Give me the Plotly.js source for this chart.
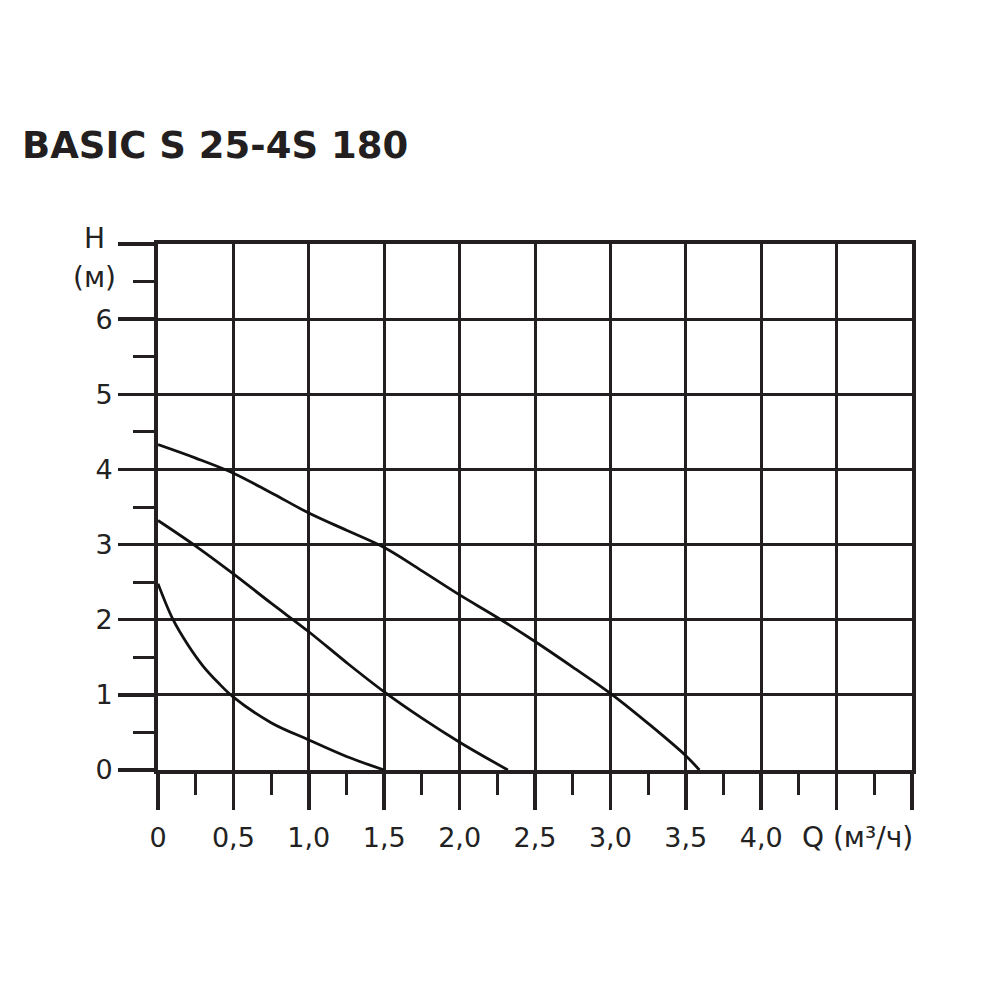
<!DOCTYPE html>
<html>
<head>
<meta charset="utf-8">
<script src="https://cdn.plot.ly/plotly-3.0.1.min.js"></script>
<style>html,body{margin:0;padding:0;background:#fff;}#chart{width:1000px;height:1000px;}</style>
</head>
<body>
<div id="chart"></div>
<script>
// Pump curves: Q (m3/h) vs H (m)
const q1 = [0, 0.25, 0.5, 0.75, 1.0, 1.25, 1.5, 1.75, 2.0, 2.25, 2.5, 2.75, 3.0, 3.25, 3.5, 3.59];
const h1 = [4.33, 4.15, 3.95, 3.69, 3.42, 3.19, 2.96, 2.65, 2.33, 2.03, 1.71, 1.37, 1.02, 0.62, 0.19, 0];

const q2 = [0, 0.25, 0.5, 0.75, 1.0, 1.25, 1.5, 1.75, 2.0, 2.32];
const h2 = [3.32, 2.98, 2.61, 2.22, 1.84, 1.43, 1.04, 0.69, 0.37, 0];

const q3 = [0, 0.1, 0.2, 0.3, 0.4, 0.5, 0.75, 1.0, 1.25, 1.5];
const h3 = [2.48, 2.0, 1.66, 1.38, 1.16, 0.97, 0.63, 0.40, 0.18, 0];

const xTickVals = [0, 0.5, 1.0, 1.5, 2.0, 2.5, 3.0, 3.5, 4.0, 4.5, 5.0];
const xTickText = ["0", "0,5", "1,0", "1,5", "2,0", "2,5", "3,0", "3,5", "4,0", "", ""];
const yTickVals = [0, 1, 2, 3, 4, 5, 6, 7];
const yTickText = ["0", "1", "2", "3", "4", "5", "6", ""];

const titleText = "BASIC S 25-4S 180";
const yLabel1 = "H";
const yLabel2 = "(м)";
const xLabel = "Q (м³/ч)";

const ink = "#231f20";
const lineStyle = {color: "#111", width: 2.8, shape: "spline", smoothing: 1.0};

const traces = [
  {x: q1, y: h1, mode: "lines", line: lineStyle, hoverinfo: "skip"},
  {x: q2, y: h2, mode: "lines", line: lineStyle, hoverinfo: "skip"},
  {x: q3, y: h3, mode: "lines", line: lineStyle, hoverinfo: "skip"}
];

const tickFont = {family: "DejaVu Sans", size: 27, color: "#222"};
const labelFont = {family: "DejaVu Sans", size: 28, color: "#222"};

const layout = {
  width: 1000, height: 1000,
  paper_bgcolor: "#fff", plot_bgcolor: "#fff",
  showlegend: false,
  margin: {l: 158, r: 88, t: 244, b: 230},
  title: {
    text: "<b>" + titleText + "</b>",
    font: {family: "DejaVu Sans", size: 37, color: ink},
    x: 0.022, xanchor: "left", xref: "container",
    y: 0.855, yanchor: "middle", yref: "container"
  },
  xaxis: {
    range: [0, 5], fixedrange: true,
    tickmode: "array", tickvals: xTickVals, ticktext: xTickText,
    ticks: "outside", ticklen: 36, tickwidth: 3.5, tickcolor: ink,
    ticklabelstandoff: 5,
    tickfont: tickFont,
    showgrid: true, gridcolor: ink, gridwidth: 3,
    showline: true, linecolor: ink, linewidth: 4, mirror: true,
    zeroline: false,
    minor: {dtick: 0.25, tick0: 0, ticks: "outside", ticklen: 21, tickwidth: 3, tickcolor: ink, showgrid: false}
  },
  yaxis: {
    range: [0, 7], fixedrange: true,
    tickmode: "array", tickvals: yTickVals, ticktext: yTickText,
    ticks: "outside", ticklen: 36, tickwidth: 3.5, tickcolor: ink,
    ticklabelstandoff: 0,
    tickfont: tickFont,
    showgrid: true, gridcolor: ink, gridwidth: 3,
    showline: true, linecolor: ink, linewidth: 4, mirror: true,
    zeroline: false,
    minor: {dtick: 0.5, tick0: 0, ticks: "outside", ticklen: 21, tickwidth: 3, tickcolor: ink, showgrid: false}
  },
  annotations: [
    {text: yLabel1, xref: "paper", yref: "paper", x: -0.0836, y: 1.0114, xanchor: "center", yanchor: "middle", showarrow: false, font: labelFont},
    {text: yLabel2, xref: "paper", yref: "paper", x: -0.0836, y: 0.937, xanchor: "center", yanchor: "middle", showarrow: false, font: labelFont},
    {text: xLabel, xref: "paper", yref: "paper", x: 0.9277, y: -0.129, xanchor: "center", yanchor: "middle", showarrow: false, font: labelFont}
  ]
};

Plotly.newPlot("chart", traces, layout, {staticPlot: true, displayModeBar: false});
</script>
</body>
</html>
